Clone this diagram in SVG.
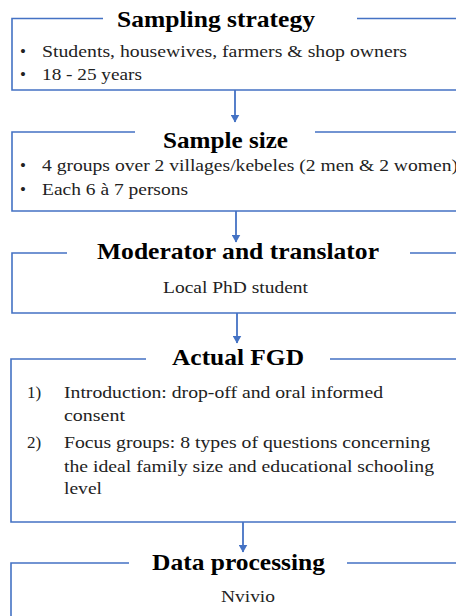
<svg xmlns="http://www.w3.org/2000/svg" width="456" height="616" viewBox="0 0 456 616" font-family="Liberation Serif, Times New Roman, DejaVu Serif, serif">
<defs>
<marker id="ah" markerUnits="userSpaceOnUse" markerWidth="8" markerHeight="9" viewBox="0 0 8 9" refX="7.5" refY="4.5" orient="auto">
<path d="M0,0 L8,4.5 L0,9 Z" fill="#4472C4"/>
</marker>
<style>
.box{fill:none;stroke:#4472C4;stroke-width:1.6}
.conn{fill:none;stroke:#4472C4;stroke-width:1.8}
.t{font-weight:bold;font-size:23px;fill:#000}
.b{font-size:17px;fill:#222}
</style>
</defs>
<rect width="456" height="616" fill="#fff"/>
<g id="sampling-strategy">
<path class="box" d="M357,18.5 H470 V90 H12 V18.5 H103"/>
<text class="t" x="117" y="27" textLength="198" lengthAdjust="spacingAndGlyphs">Sampling strategy</text>
<text class="b" x="20" y="57">•</text>
<text class="b" x="42" y="57" textLength="365" lengthAdjust="spacingAndGlyphs">Students, housewives, farmers &amp; shop owners</text>
<text class="b" x="20" y="80">•</text>
<text class="b" x="42" y="80" textLength="100" lengthAdjust="spacingAndGlyphs">18 - 25 years</text>
</g>
<g id="sample-size">
<path class="box" d="M315,132 H470 V211 H12 V132 H135"/>
<text class="t" x="163" y="148" textLength="125" lengthAdjust="spacingAndGlyphs">Sample size</text>
<text class="b" x="20" y="171">•</text>
<text class="b" x="42" y="171" textLength="416" lengthAdjust="spacingAndGlyphs">4 groups over 2 villages/kebeles (2 men &amp; 2 women)</text>
<text class="b" x="20" y="195">•</text>
<text class="b" x="42" y="195" textLength="146" lengthAdjust="spacingAndGlyphs">Each 6 à 7 persons</text>
</g>
<g id="moderator">
<path class="box" d="M410,253 H470 V313 H12 V253 H67"/>
<text class="t" x="97" y="259" textLength="282" lengthAdjust="spacingAndGlyphs">Moderator and translator</text>
<text class="b" x="163" y="293" textLength="145" lengthAdjust="spacingAndGlyphs">Local PhD student</text>
</g>
<g id="actual-fgd">
<path class="box" d="M330,359 H470 V522 H11 V359 H146"/>
<text class="t" x="172" y="365" textLength="132" lengthAdjust="spacingAndGlyphs">Actual FGD</text>
<text class="b" x="27" y="398">1)</text>
<text class="b" x="64" y="398" textLength="319" lengthAdjust="spacingAndGlyphs">Introduction: drop-off and oral informed</text>
<text class="b" x="64" y="421" textLength="61" lengthAdjust="spacingAndGlyphs">consent</text>
<text class="b" x="27" y="448">2)</text>
<text class="b" x="64" y="448" textLength="366" lengthAdjust="spacingAndGlyphs">Focus groups: 8 types of questions concerning</text>
<text class="b" x="64" y="472" textLength="370" lengthAdjust="spacingAndGlyphs">the ideal family size and educational schooling</text>
<text class="b" x="64" y="494" textLength="38" lengthAdjust="spacingAndGlyphs">level</text>
</g>
<g id="data-processing">
<path class="box" d="M347,563 H470 M11,620 V563 H129"/>
<text class="t" x="152" y="570" textLength="173" lengthAdjust="spacingAndGlyphs">Data processing</text>
<text class="b" x="221" y="602" textLength="54" lengthAdjust="spacingAndGlyphs">Nvivio</text>
</g>
<g id="connectors">
<line class="conn" x1="235" y1="90" x2="235" y2="122" marker-end="url(#ah)"/>
<line class="conn" x1="236" y1="211" x2="236" y2="242" marker-end="url(#ah)"/>
<line class="conn" x1="237" y1="313" x2="237" y2="343" marker-end="url(#ah)"/>
<line class="conn" x1="243" y1="522" x2="243" y2="552" marker-end="url(#ah)"/>
</g>
</svg>
